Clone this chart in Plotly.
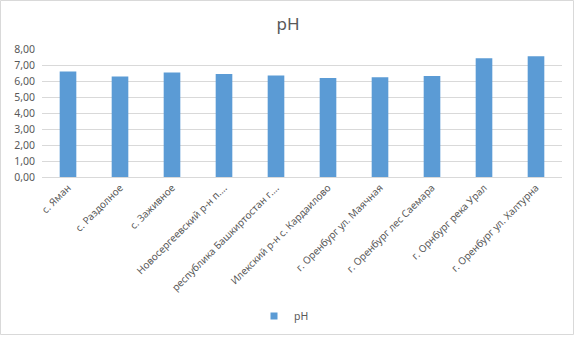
import plotly.graph_objects as go

categories = [
    "с. Яман",
    "с. Раздолное",
    "с. Заживное",
    "Новосергеевский р-н п.…",
    "республика Башкиртостан г.…",
    "Илекский р-н с. Кардаилово",
    "г. Оренбург ул. Маячная",
    "г. Оренбург лес Саемара",
    "г. Орнбург река Урал",
    "г. Оренбург ул. Халтурна",
]
ph_values = [6.60, 6.28, 6.53, 6.43, 6.35, 6.19, 6.23, 6.31, 7.42, 7.55]
y_ticks = [0, 1, 2, 3, 4, 5, 6, 7, 8]

W, H = 578, 338
L, R, T, B = 42, 16, 49, 161
pw, ph = W - L - R, H - T - B

fig = go.Figure()
fig.add_trace(go.Bar(
    x=categories, y=ph_values, name="pH",
    marker=dict(color="#5B9BD5", line=dict(width=0)),
    showlegend=False,
))
# legend entry (square swatch)
fig.add_trace(go.Scatter(
    x=[None], y=[None], mode="markers", name="pH",
    marker=dict(symbol="square", size=7, color="#5B9BD5"),
    showlegend=True, hoverinfo="skip",
))

font = "Noto Sans, Open Sans, DejaVu Sans, sans-serif"
fig.update_layout(
    width=W, height=H,
    margin=dict(l=L, r=R, t=T, b=B, autoexpand=False),
    paper_bgcolor="white", plot_bgcolor="white",
    separators=", ",
    bargap=0.68,
    title=dict(text="pH", x=288 / W, xanchor="center", y=1 - 24 / H, yanchor="middle",
               font=dict(family=font, size=17, color="#595959")),
    font=dict(family=font, size=10, color="#595959"),
    xaxis=dict(showgrid=False, showline=True, linecolor="#D9D9D9", linewidth=1,
               tickangle=-45, ticks="", tickfont=dict(size=10, color="#595959"),
               automargin=False),
    yaxis=dict(range=[0, 8], tickvals=y_ticks, tickformat=".2f", showgrid=True,
               gridcolor="#D9D9D9", gridwidth=1, zeroline=False, showline=False,
               ticks="", ticklabelstandoff=6, tickfont=dict(size=10.5, color="#595959"),
               automargin=False),
    legend=dict(orientation="h", x=(284 - L) / pw, xanchor="center",
                y=(T + ph - 316) / ph, yanchor="middle", itemwidth=30,
                font=dict(size=10.5, color="#595959"), bgcolor="rgba(0,0,0,0)"),
)

# chart area border
fig.add_shape(type="rect", xref="paper", yref="paper",
              x0=(0.5 - L) / pw, x1=(573.5 - L) / pw,
              y0=(T + ph - 334.5) / ph, y1=(T + ph - 0.5) / ph,
              line=dict(color="#D9D9D9", width=1), fillcolor="rgba(0,0,0,0)", layer="below")

fig.write_html("out.html", config={"displayModeBar": False},
               post_script="document.body.style.margin='0';document.body.style.overflow='hidden';")
